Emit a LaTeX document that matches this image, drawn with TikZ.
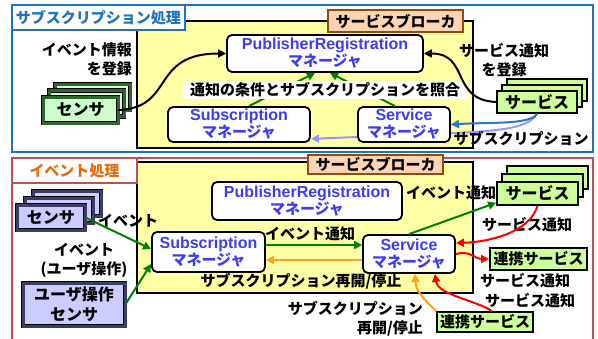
\documentclass[tikz,border=0pt]{standalone}
\usepackage{fontspec}
\setmainfont{Noto Sans CJK JP}
\newfontfamily\lat{Liberation Sans}
\newcommand{\latin}[1]{{\lat\bfseries\fontsize{16}{17}\selectfont #1}}
\usetikzlibrary{arrows.meta}
\definecolor{frameblue}{RGB}{31,115,190}
\definecolor{framered}{RGB}{192,80,77}
\definecolor{titleorange}{RGB}{228,108,10}
\definecolor{brokerfill}{RGB}{255,255,166}
\definecolor{tagfill}{RGB}{252,213,180}
\definecolor{tagline}{RGB}{152,72,7}
\definecolor{mgrtext}{RGB}{60,60,240}
\definecolor{svcfill}{RGB}{204,255,153}
\definecolor{sensgreen}{RGB}{204,255,204}
\definecolor{sensgreendk}{RGB}{50,100,50}
\definecolor{senslav}{RGB}{204,204,255}
\definecolor{senslavdk}{RGB}{60,60,100}
\definecolor{arrgreen}{RGB}{0,128,0}
\definecolor{arrorange}{RGB}{255,160,32}
\definecolor{arrblue}{RGB}{40,120,200}
\definecolor{arrlav}{RGB}{150,150,255}
\tikzset{
  panelA/.style={draw=frameblue, line width=2.5pt, fill=white, inner sep=0pt},
  panelB/.style={draw=framered, line width=2.5pt, fill=white, inner sep=0pt},
  titleA/.style={draw=frameblue, line width=2.5pt, fill=white, text=frameblue, inner sep=0pt},
  titleB/.style={draw=framered, line width=2.5pt, fill=white, text=titleorange, inner sep=0pt},
  broker/.style={draw=black, line width=1.5pt, fill=brokerfill, inner sep=0pt},
  brokertag/.style={draw=tagline, line width=2pt, fill=tagfill, inner sep=0pt},
  mgr/.style={draw=black, line width=1.8pt, rounded corners=5pt, fill=white, align=center,
    inner sep=0pt, text=mgrtext, font=\bfseries\fontsize{15}{17}\selectfont},
  greensens/.style={draw=black, double=sensgreendk, double distance=3pt, line width=0.6pt,
    fill=sensgreen, inner sep=0pt, font=\bfseries\fontsize{16}{19}\selectfont},
  lavsens/.style={draw=black, double=senslavdk, double distance=3pt, line width=0.6pt,
    fill=senslav, inner sep=0pt, align=center, font=\bfseries\fontsize{16}{20}\selectfont},
  svcbox/.style={draw=black, line width=1.6pt, fill=svcfill, inner sep=0pt,
    font=\bfseries\fontsize{16}{19}\selectfont},
  renbox/.style={draw=black, line width=2pt, fill=svcfill, inner sep=0pt,
    font=\bfseries\fontsize{15}{18}\selectfont},
  lbl/.style={inner sep=1pt, align=center},
  arrtip/.style={-{Triangle[length=8pt,width=8pt]}},
  blk/.style={arrtip, draw=black, line width=2pt},
  garr/.style={arrtip, draw=arrgreen, line width=2pt},
  oarr/.style={arrtip, draw=arrorange, line width=2pt},
  rarr/.style={arrtip, draw=red, line width=2pt},
  barr/.style={arrtip, draw=arrblue, line width=2pt},
  larr/.style={arrtip, draw=arrlav, line width=2pt},
}
\begin{document}
\begin{tikzpicture}[x=1pt, y={(0pt,-1pt)}, font=\bfseries\fontsize{15}{19}\selectfont]
\useasboundingbox (0,0) rectangle (598,338);
\fill[white] (0,0) rectangle (598,338);

% ===== top panel =====
\node[panelA, minimum width=581pt, minimum height=147pt] (panA) at (302.5,78.5) {};
\node[broker, minimum width=336pt, minimum height=127pt] (brkA) at (305,84.5) {};
\node[titleA, minimum width=173pt, minimum height=25pt] (titA) at (98.5,17.5) {サブスクリプション処理};
\node[brokertag, minimum width=135pt, minimum height=22pt] (tagA) at (395.5,21) {サービスブローカ};

\node[mgr, minimum width=196pt, minimum height=37pt] (prA) at (325,53.5) {\latin{PublisherRegistration}\\マネージャ};
\node[mgr, minimum width=142pt, minimum height=35pt] (subA) at (239,124.5) {\latin{Subscription}\\マネージャ};

% service stack (top)
\node[svcbox, minimum width=80pt, minimum height=22pt] (svcA3) at (547,90) {};
\node[svcbox, minimum width=80pt, minimum height=22pt] (svcA2) at (542,96) {};
\node[svcbox, minimum width=80pt, minimum height=22pt] (svcA1) at (537,102) {サービス};

% lavender arrow passes behind the Service manager
\draw[larr] (svcA1.south) .. controls (528,130) and (490,131) .. (455,133) -- ([yshift=4pt]subA.south east);
\node[mgr, minimum width=92pt, minimum height=35pt] (svcmA) at (404,124.5) {\latin{Service}\\マネージャ};

\draw[garr] ([xshift=10pt]subA.north) -- ([xshift=-10pt]prA.south);
\draw[garr] ([xshift=-9pt]svcmA.north) -- ([xshift=5pt]prA.south);
\node[lbl, fill=white, inner xsep=7pt, inner ysep=2pt] (matchA) at (325,90) {通知の条件とサブスクリプションを照合};

% sensor stack (top)
\node[greensens, minimum width=75pt, minimum height=26pt] (sensA3) at (92.5,97) {};
\node[greensens, minimum width=75pt, minimum height=26pt] (sensA2) at (86.5,103.5) {};
\node[greensens, minimum width=75pt, minimum height=26pt] (sensA1) at (80.5,110) {センサ};
\node[lbl, align=right, anchor=north east] (regA) at (133,41) {イベント情報\\を登録};

\node[lbl] (regB) at (504,60) {サービス通知\\を登録};
\node[lbl] (subscrA) at (521,139) {サブスクリプション};

\draw[blk] (sensA1.east) .. controls (175,108) and (150,53.5) .. (prA.west);
\draw[blk] (svcA1.west) .. controls (450,100) and (470,53.5) .. (prA.east);
\draw[barr] (svcA1.south) .. controls (530,125) and (490,122) .. (svcmA.east);

% ===== bottom panel =====
\node[panelB, minimum width=581pt, minimum height=200pt] (panB) at (302.5,258) {};
\node[broker, minimum width=336pt, minimum height=131pt] (brkB) at (305,227.5) {};
\node[titleB, minimum width=125pt, minimum height=25pt] (titB) at (74.5,170.5) {イベント処理};
\node[brokertag, minimum width=135pt, minimum height=19pt] (tagB) at (375.5,164) {サービスブローカ};

\node[mgr, minimum width=190pt, minimum height=38pt] (prB) at (307,201) {\latin{PublisherRegistration}\\マネージャ};
\node[mgr, minimum width=113pt, minimum height=40pt] (subB) at (208.5,252) {\latin{Subscription}\\マネージャ};
\node[mgr, minimum width=92pt, minimum height=38pt] (svcmB) at (409,254) {\latin{Service}\\マネージャ};

% sensor stack (bottom)
\node[lavsens, minimum width=68pt, minimum height=25pt] (sensB3) at (67,203.5) {};
\node[lavsens, minimum width=68pt, minimum height=25pt] (sensB2) at (59,210.5) {};
\node[lavsens, minimum width=68pt, minimum height=25pt] (sensB1) at (51,217.5) {センサ};
\node[lavsens, minimum width=102pt, minimum height=43pt] (userB) at (74,304.5) {ユーザ操作\\センサ};

\node[lbl] (evB) at (128,221) {イベント};
\node[lbl] (evuB) at (84,260) {イベント\\(ユーザ操作)};

\draw[garr] (sensB1.east) -- ([yshift=3pt]subB.west);
\draw[garr] (userB.east) -- ([yshift=-12pt]subB.west);

\draw[garr] ([yshift=7pt]subB.east) -- ([yshift=7pt]subB.east -| svcmB.west);
\draw[oarr] ([yshift=-6pt]svcmB.west) -- ([yshift=-6pt]svcmB.west -| subB.east);
\node[lbl] (evnB) at (310,234) {イベント通知};
\node[lbl] (resB) at (301,281) {サブスクリプション再開/停止};

% service stack (bottom)
\node[svcbox, minimum width=81pt, minimum height=23pt] (svcB3) at (547.5,177.5) {};
\node[svcbox, minimum width=81pt, minimum height=23pt] (svcB2) at (542.5,185.5) {};
\node[svcbox, minimum width=81pt, minimum height=23pt] (svcB1) at (537.5,193.5) {サービス};
\node[renbox, minimum width=97pt, minimum height=22pt] (renB1) at (538.5,259) {連携サービス};
\node[renbox, minimum width=96pt, minimum height=20pt] (renB2) at (485,322) {連携サービス};

\node[lbl] (evn2B) at (451,193) {イベント通知};
\node[lbl] (sn1B) at (527,225) {サービス通知};
\node[lbl] (sn2B) at (525,281) {サービス通知};
\node[lbl] (sn3B) at (530,301) {サービス通知};
\node[lbl, align=right, anchor=north east] (res2B) at (424,300) {サブスクリプション\\再開/停止};

\draw[garr] (svcmB.north) -- ([yshift=3pt]svcB1.south west);
\draw[rarr] (svcB1.south) .. controls (530,232) and (490,242) .. ([yshift=11pt]svcmB.east);
\draw[rarr] (svcmB.east) .. controls (470,250) and (475,259) .. (renB1.west);
\draw[rarr] ([xshift=7pt]renB2.north) .. controls (475,300) and (438,295) .. ([xshift=26pt]svcmB.south);
\draw[oarr] (renB2.north west) .. controls (425,300) and (416,292) .. ([xshift=6pt]svcmB.south);
\end{tikzpicture}
\end{document}
